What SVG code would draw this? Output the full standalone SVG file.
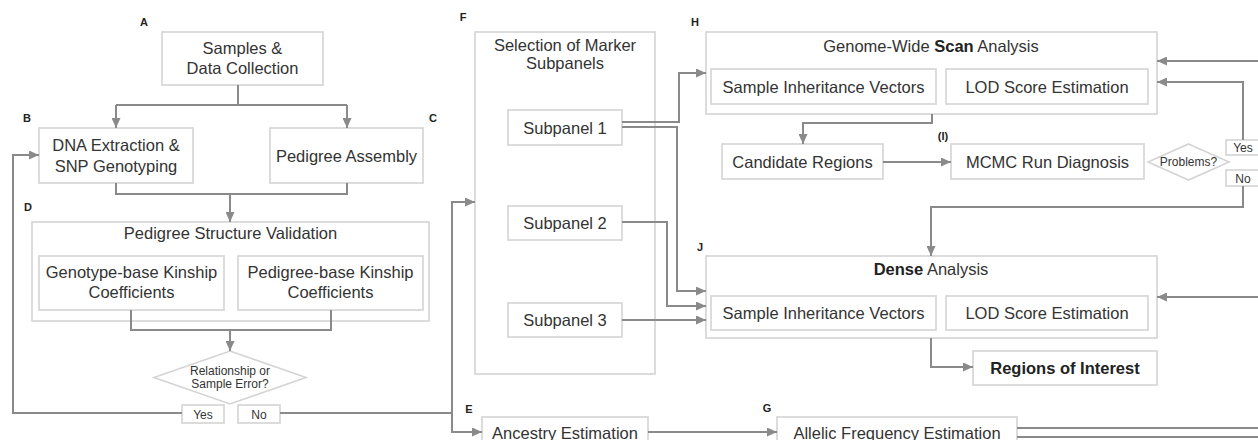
<svg xmlns="http://www.w3.org/2000/svg" width="1258" height="440" viewBox="0 0 1258 440">
<style>
.box{fill:#fff;stroke:#d4d4d4;stroke-width:1.6}
.t{font-family:"Liberation Sans",Arial,sans-serif;font-size:16.5px;fill:#333;text-anchor:middle}
.s{font-family:"Liberation Sans",Arial,sans-serif;font-size:12px;fill:#333;text-anchor:middle}
.lab{font-family:"Liberation Sans",Arial,sans-serif;font-size:11px;font-weight:bold;fill:#222;text-anchor:middle}
.b{font-weight:bold;fill:#222}
.c{fill:none;stroke:#8a8a8a;stroke-width:2}
</style>
<defs>
<marker id="ah" markerUnits="userSpaceOnUse" markerWidth="10" markerHeight="9" refX="10" refY="4.5" orient="auto">
<path d="M0,0 L10,4.5 L0,9 z" fill="#8a8a8a"/>
</marker>
</defs>
<rect width="1258" height="440" fill="#fff"/>

<g id="A">
<rect class="box" x="162" y="32" width="161" height="53"/>
<text class="t" x="242.5" y="54">Samples &amp;</text>
<text class="t" x="242.5" y="74">Data Collection</text>
<text class="lab" x="144" y="26">A</text>
</g>
<g id="B">
<rect class="box" x="39" y="128" width="154" height="55"/>
<text class="t" x="116" y="151">DNA Extraction &amp;</text>
<text class="t" x="116" y="172">SNP Genotyping</text>
<text class="lab" x="27" y="122">B</text>
</g>
<g id="C">
<rect class="box" x="270" y="128" width="153" height="55"/>
<text class="t" x="346.5" y="161.5">Pedigree Assembly</text>
<text class="lab" x="433" y="122">C</text>
</g>
<g id="D">
<rect class="box" x="32" y="222" width="397" height="99"/>
<text class="t" x="230.5" y="239">Pedigree Structure Validation</text>
<text class="lab" x="28" y="211">D</text>
<rect class="box" x="39" y="256" width="185" height="54"/>
<text class="t" x="131.5" y="278">Genotype-base Kinship</text>
<text class="t" x="131.5" y="298">Coefficients</text>
<rect class="box" x="238" y="256" width="185" height="54"/>
<text class="t" x="330.5" y="278">Pedigree-base Kinship</text>
<text class="t" x="330.5" y="298">Coefficients</text>
</g>
<g id="D-decision">
<polygon class="box" points="230,351 306,377.5 230,404 154,377.5"/>
<text class="s" x="230" y="375">Relationship or</text>
<text class="s" x="230" y="388">Sample Error?</text>
<rect class="box" x="182" y="405" width="42" height="18"/>
<text class="s" x="203" y="418.5">Yes</text>
<rect class="box" x="238" y="405" width="42" height="18"/>
<text class="s" x="259" y="418.5">No</text>
</g>
<g id="F">
<rect class="box" x="475" y="32" width="180" height="342"/>
<text class="t" x="565" y="51">Selection of Marker</text>
<text class="t" x="565" y="69">Subpanels</text>
<text class="lab" x="463" y="21">F</text>
<rect class="box" x="508" y="110" width="114" height="35"/>
<text class="t" x="565" y="133.5">Subpanel 1</text>
<rect class="box" x="508" y="206" width="114" height="34"/>
<text class="t" x="565" y="229">Subpanel 2</text>
<rect class="box" x="508" y="303" width="114" height="34"/>
<text class="t" x="565" y="326">Subpanel 3</text>
</g>
<g id="E">
<rect class="box" x="482" y="417" width="166" height="40"/>
<text class="t" x="565" y="439">Ancestry Estimation</text>
<text class="lab" x="469" y="413">E</text>
</g>
<g id="G">
<rect class="box" x="777" y="417" width="240" height="40"/>
<text class="t" x="897" y="439">Allelic Frequency Estimation</text>
<text class="lab" x="767" y="412">G</text>
</g>
<g id="H">
<rect class="box" x="706" y="32" width="451" height="82"/>
<text class="t" x="931" y="52">Genome-Wide <tspan class="b">Scan</tspan> Analysis</text>
<text class="lab" x="695" y="26">H</text>
<rect class="box" x="711" y="69" width="225" height="35"/>
<text class="t" x="823.5" y="93">Sample Inheritance Vectors</text>
<rect class="box" x="946" y="69" width="202" height="35"/>
<text class="t" x="1047" y="93">LOD Score Estimation</text>
</g>
<g id="candidate">
<rect class="box" x="722" y="144" width="161" height="35"/>
<text class="t" x="802.5" y="168">Candidate Regions</text>
</g>
<g id="I">
<rect class="box" x="951" y="144" width="193" height="35"/>
<text class="t" x="1047.5" y="168">MCMC Run Diagnosis</text>
<text class="lab" x="943" y="140">(I)</text>
</g>
<g id="I-decision">
<polygon class="box" points="1188.5,144 1229,162 1188.5,180 1148,162"/>
<text class="s" x="1188.5" y="166">Problems?</text>
<rect class="box" x="1226" y="140" width="40" height="15"/>
<text class="s" x="1243" y="152">Yes</text>
<rect class="box" x="1226" y="170" width="40" height="16"/>
<text class="s" x="1243" y="182.5">No</text>
</g>
<g id="J">
<rect class="box" x="706" y="256" width="451" height="82"/>
<text class="t" x="931" y="275"><tspan class="b">Dense</tspan> Analysis</text>
<text class="lab" x="700" y="251">J</text>
<rect class="box" x="711" y="296" width="225" height="34"/>
<text class="t" x="823.5" y="319">Sample Inheritance Vectors</text>
<rect class="box" x="946" y="296" width="202" height="34"/>
<text class="t" x="1047" y="319">LOD Score Estimation</text>
</g>
<g id="ROI">
<rect class="box" x="973" y="351" width="184" height="34"/>
<text class="t b" x="1065" y="374">Regions of Interest</text>
</g>

<g id="connectors">
<path class="c" d="M238,85 V105 M116,105 H347" />
<path class="c" d="M116,105 V128" marker-end="url(#ah)"/>
<path class="c" d="M347,105 V128" marker-end="url(#ah)"/>
<path class="c" d="M116,183 V194 H347 V183 M230,194 V222" marker-end="url(#ah)"/>
<path class="c" d="M131,310 V330 H331 V310 M230,330 V351" marker-end="url(#ah)"/>
<path class="c" d="M182,413 H13 V155 H39" marker-end="url(#ah)"/>
<path class="c" d="M280,413 H452"/>
<path class="c" d="M452,432 V202 H475" marker-end="url(#ah)"/>
<path class="c" d="M452,413 V432 H482" marker-end="url(#ah)"/>
<path class="c" d="M648,432 H777" marker-end="url(#ah)"/>
<path class="c" d="M622,122 H679 V73 H706" marker-end="url(#ah)"/>
<path class="c" d="M622,127 H677 V291 H706" marker-end="url(#ah)"/>
<path class="c" d="M622,222 H667 V306 H706" marker-end="url(#ah)"/>
<path class="c" d="M622,320 H706" marker-end="url(#ah)"/>
<path class="c" d="M932,114 V123 H803 V144" marker-end="url(#ah)"/>
<path class="c" d="M883,162 H951" marker-end="url(#ah)"/>
<path class="c" d="M1258,61 H1157" marker-end="url(#ah)"/>
<path class="c" d="M1243,140 V82 H1157" marker-end="url(#ah)"/>
<path class="c" d="M1243,186 V207 H931 V256" marker-end="url(#ah)"/>
<path class="c" d="M1258,297 H1157" marker-end="url(#ah)"/>
<path class="c" d="M931,338 V367 H973" marker-end="url(#ah)"/>
<path class="c" d="M1017,428 H1258 M1017,437 H1258"/>
</g>
</svg>
